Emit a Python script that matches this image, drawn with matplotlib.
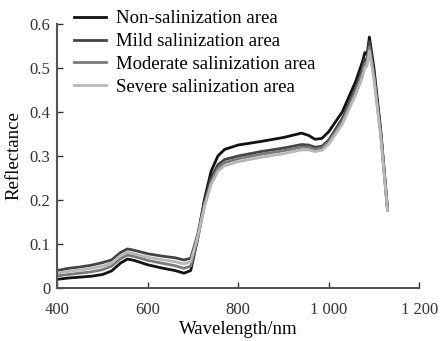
import matplotlib
matplotlib.use("Agg")
import matplotlib.pyplot as plt

wavelength = [400, 425, 450, 475, 500, 520, 540, 555, 570, 600, 630, 660, 680, 695,
              710, 725, 740, 755, 770, 800, 850, 900, 940, 955, 970, 985, 1000,
              1030, 1060, 1075, 1080, 1085, 1090, 1100, 1115, 1130]

non_salt = [0.020, 0.023, 0.025, 0.027, 0.031, 0.039, 0.057, 0.066, 0.063, 0.053, 0.046,
            0.040, 0.034, 0.040, 0.110, 0.200, 0.265, 0.300, 0.315, 0.325, 0.333, 0.342,
            0.352, 0.347, 0.338, 0.340, 0.355, 0.400, 0.470, 0.515, 0.535, 0.530, 0.570,
            0.500, 0.360, 0.180]
mild_salt = [0.040, 0.045, 0.048, 0.052, 0.058, 0.064, 0.081, 0.089, 0.086, 0.078, 0.073,
             0.069, 0.064, 0.068, 0.120, 0.195, 0.250, 0.280, 0.292, 0.300, 0.310, 0.318,
             0.326, 0.325, 0.320, 0.322, 0.336, 0.385, 0.455, 0.500, 0.520, 0.520, 0.560,
             0.490, 0.355, 0.180]
moderate_salt = [0.028, 0.031, 0.034, 0.037, 0.042, 0.050, 0.067, 0.075, 0.072, 0.063, 0.057,
                 0.051, 0.045, 0.050, 0.110, 0.185, 0.240, 0.272, 0.285, 0.294, 0.304, 0.312,
                 0.320, 0.320, 0.315, 0.318, 0.332, 0.378, 0.448, 0.490, 0.510, 0.512, 0.548,
                 0.480, 0.350, 0.178]
severe_salt = [0.034, 0.038, 0.041, 0.045, 0.050, 0.057, 0.074, 0.081, 0.078, 0.070, 0.065,
               0.060, 0.055, 0.060, 0.115, 0.185, 0.235, 0.265, 0.278, 0.287, 0.297, 0.305,
               0.314, 0.314, 0.310, 0.313, 0.327, 0.372, 0.440, 0.480, 0.500, 0.505, 0.538,
               0.475, 0.345, 0.176]

labels = ["Non-salinization area", "Mild salinization area",
          "Moderate salinization area", "Severe salinization area"]
colors = ["#111111", "#444444", "#7a7a7a", "#b8b8b8"]

plt.rcParams['font.family'] = ['Liberation Serif', 'DejaVu Serif']
fig = plt.figure(figsize=(4.44, 3.41), dpi=100)
ax = fig.add_axes([0.129, 0.155, 0.815, 0.775])

for ys, lab, c in zip([non_salt, mild_salt, moderate_salt, severe_salt], labels, colors):
    ax.plot(wavelength, ys, color=c, lw=2.0, label=lab)

ax.set_xlim(400, 1200)
ax.set_ylim(0, 0.6)
ax.set_xticks([400, 600, 800, 1000, 1200])
ax.set_xticklabels(["400", "600", "800", "1 000", "1 200"])
ax.set_yticks([0, 0.1, 0.2, 0.3, 0.4, 0.5, 0.6])
ax.set_yticklabels(["0", "0.1", "0.2", "0.3", "0.4", "0.5", "0.6"])
ax.tick_params(direction="in", length=4, width=1, labelsize=12, colors="#333333")
ax.tick_params(axis="x", pad=10)
ax.tick_params(axis="y", pad=5)
for s in ["top", "right"]:
    ax.spines[s].set_visible(False)
for s in ["left", "bottom"]:
    ax.spines[s].set_color("#555555")
    ax.spines[s].set_linewidth(1.5)
ax.set_xlabel("Wavelength/nm", fontsize=13.5, labelpad=2)
ax.set_ylabel("Reflectance", fontsize=13.5, labelpad=5)
ax.legend(loc="upper left", frameon=False, fontsize=13.5, handlelength=1.7,
          handletextpad=0.55, labelspacing=0.3, borderaxespad=0.0,
          bbox_to_anchor=(0.025, 1.08))

fig.savefig("out.png", dpi=100)
